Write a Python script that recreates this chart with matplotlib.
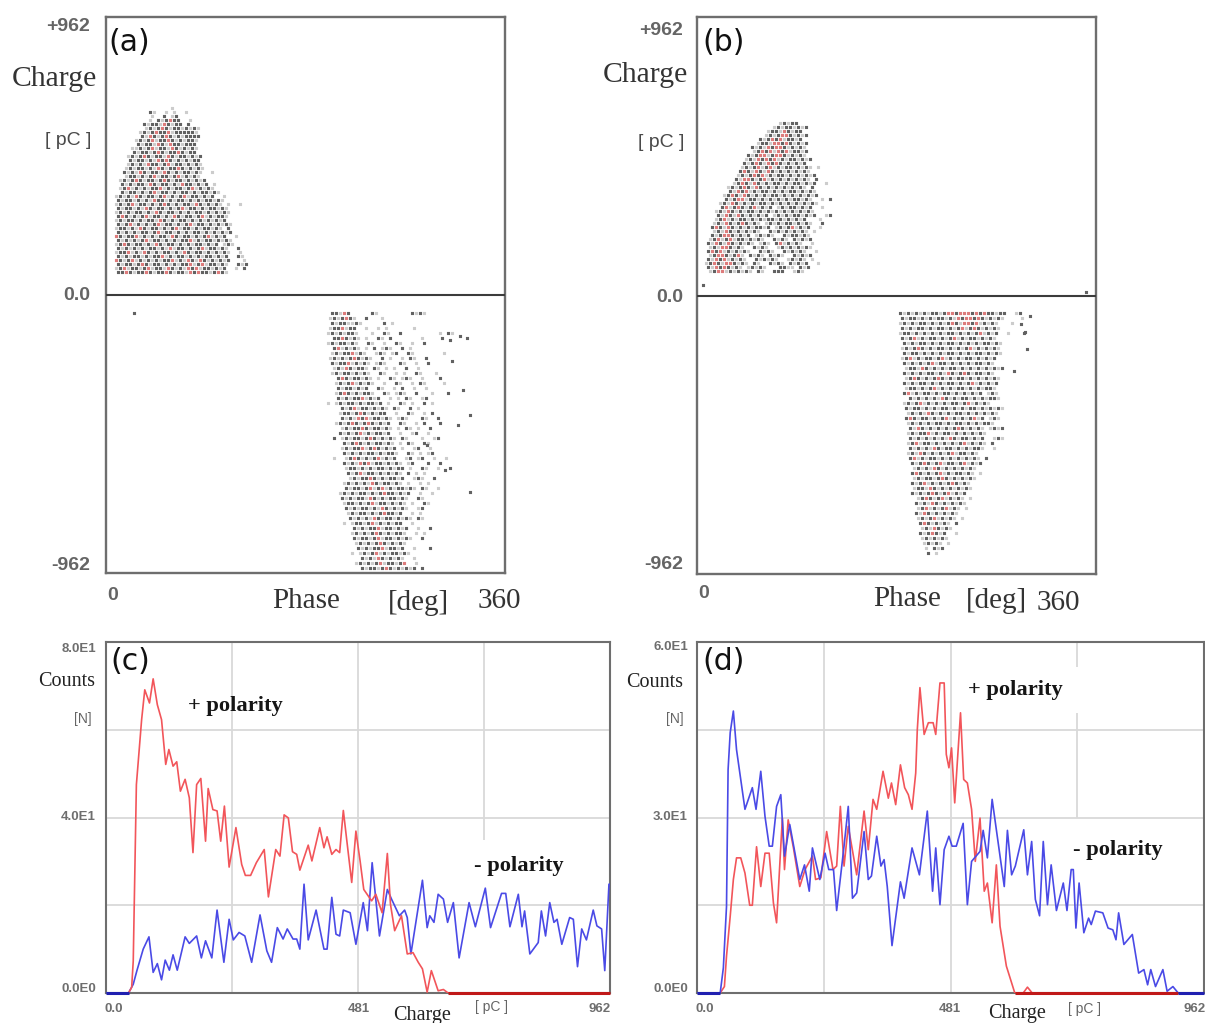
#!/usr/bin/env python3
"""Phase-resolved PD patterns (a, b) and charge histograms (c, d)."""

import matplotlib

matplotlib.use("Agg")
import matplotlib.pyplot as plt

W, H = 1205, 1023

# Scatter clouds read row by row: '#' dark dot, 'r' red dot, '.' pale dot.
A_POS_START = (5.4, 647.0)
A_POS_STEP = (3.6, -13.8)
A_POS_ROWS = [
    "               .                    ",
    "         #.  . .  .                 ",
    "          .  # .#                   ",
    "         . #.#r##  .                ",
    "        #.##.r#.## #                ",
    "        .#.#r#.##.#.#.              ",
    "       .#.#r##r.#####.              ",
    "       #.r#.#r#.#.####              ",
    "      .#.#r.##r#.#.##.              ",
    "      #.##.r#.r##.###               ",
    "     ..#.#r.##.r#.#.#.              ",
    "     #.##.#r#.##r#.##               ",
    "    .#.#r#.##.r#.##.#.#             ",
    "    #.##.#.r#r#.#.#.##              ",
    "    .#.#.r##.#r.##.#.#.             ",
    "   .#.##.#.r#.##r#.#.#.             ",
    "   #.#.r#.##.r#.#.##.#.  .          ",
    "   .##.#.#r.##.#r.#.#.              ",
    "  .#.#r#.##.#r#.##.#.#.#            ",
    "  #.#.##.r#.##.#.r##.#.# .          ",
    "  .#r.#.#.##r.#.##.#r.#.#.          ",
    "  #.##.#.#r.##.#.##.#.##.#.         ",
    " .#.#.r#.##.#r.#.#r.##.#.#  .       ",
    " #.##.#.#.r##.#.##.#.#.##.#.        ",
    " .#.#r.##.#.#r#.#.##.r#.#.#. .  .   ",
    " #.##.#.r#.##.#.#r.##.#.##.#.       ",
    " .#.#.##.#.r#.##.#.#.##.#.#.#.      ",
    " #r#.#.#r.##.#.r#.##.#r.#.##.       ",
    " .#.##.#.##.r#.#.##.#.#.#.#.#       ",
    " #.#r.#.#.#r.##.#.#r.##.#.#.#.      ",
    " .##.#.r#.##.#.#r.##.#.##.#. #      ",
    " #.#.#.##.#r.##.#.#.##.#.#.#.#      ",
    " r#.##r.#.#.##.r#.##.#.#r.#.#  .    ",
    " #.#.#.#r.##.#.#.##r.#.##.#.#.      ",
    " .#r#.##.#.r#.##.#.#.##.#.# .#.     ",
    " #.#.#.#.##.#.r.##.#.#r.##.#.  #    ",
    " .##r.#.r#.#.##.#.r#.##.#.#.#.  .   ",
    " #.#.##.#.##r.#.##.#.#.##.#.#  #.   ",
    " r#.#r.#.#.#.##r.#.r#.r#.#.#.#   .  ",
    " #.##.#r#.##.#.#.##r.#r.##.#.  #.#  ",
    " .#r.##.#r.##.r#.#.r#r.##.#.#  . #  ",
    " ##r#.##r#.##r#.##.r#r##.#r#.       ",
]

A_NEG_START = (196.7, -62.0)
A_NEG_STEP = (3.6, -17.3)
A_NEG_ROWS = [
    "  ##.r#     #.        #.#.           ",
    " .#.#r#.  #   .                      ",
    "  #.##..#.     # .                   ",
    " .##r.##  .  . .      .              ",
    " .#.#.##.   .  #.  #         . #.    ",
    "  ##r#.#. .  #. #       .    #       ",
    " .#.##.#.  #.  .  #.  .  #           ",
    "  #r.#.#. . # .#.  # .               ",
    "  .#.##r.#.  .#. .#  #.       .      ",
    " .#.#.#r#.#.  # .  . #.  #           ",
    "  #.##r.#.#. .#.   #.  .  #          ",
    "  .#.r#.##. #. . .  #  .             ",
    "  .#.##.#.#.  #.  . .  #.   .        ",
    "   #r#.##.#. .  #. .#.  .            ",
    "   .#.#r.#.#.  .  #.  . #.    .      ",
    "   #.##.#.#  #.  . #  .  .           ",
    "   .#r#.#.##.  #. .#.  #   .   #     ",
    "   #.#.##r.#.#  . . #.  .#           ",
    " . .#.##.#.##.# .  #. .  # .         ",
    "    #.#r.##.#.#. #.  # .             ",
    "    .##.#r#.#.##  .  #.  . #         ",
    "    #.#.r#r.##.#. .#.   #.  #        ",
    "   .#.#r#.#r#.#.#  #.  . #   #       ",
    "    .#.##r#.##.#. . #. .  #          ",
    "    #.#.#r.#.##.#  .  .#  .          ",
    "  # .#.##.#r#.#.#. #.   .  .#        ",
    "     #.#r#.#.##.#. . #.  #.          ",
    "    .#.##r.#r#.#.# .  .#  .          ",
    "     #.#.#.##.#.##.  #. . .#         ",
    "  .  .#r#.#.#r.#.#  .# .#  .  .      ",
    "     #.#.r#r.##.#.#. .#   #  #       ",
    "     .##.#.#.##.#.## .  #.  .  #     ",
    "      #.#r.##.#.#.#. # . .           ",
    "      .#.##r#.#.##.#  .#.  #         ",
    "     .#.#.#.r#.##.#. .  . .          ",
    "     #.##.#r.#r.#.##.#. #.  .        ",
    "    .#.#.##.#.#r##.#.#  .  .         ",
    "    #.#.##.r#.#.##.#.  #.            ",
    "     .##.#.#r.##.#.#. .  #.          ",
    "     #.#.##.#.r#.#.#.  .#            ",
    "      .#.##.#.#r##.#  . .            ",
    "      #.#.#.r#.##.#.#. #.            ",
    "     . .##.#r.#.#.##  .              ",
    "       #.#.##r.##.#.#  .  #          ",
    "       .#.#.#r#.#.##.  . .           ",
    "       #.##.#r.##.#.#.  #            ",
    "        .#.#.#r#.#.#.                ",
    "        #.#.##r.##.#  .   #          ",
    "       . .#.#r.#.##.#.               ",
    "         #.#.r#.#.#.  .              ",
    "        .#.#.#r.##.#r  .             ",
    "         #.##.#r#.#.#.# #            ",
]

# Loose dots of panel (a) that sit outside the main lobes.
A_STRAY_PHASE = [25, 326, 310, 319, 328, 328, 301, 306, 318, 290, 312, 322]
A_STRAY_CHARGE = [-62, -149, -156, -142, -415, -682, -287, -606, -450, -520, -230, -330]

B_POS_START = (6.3, 595.0)
B_POS_STEP = (3.6, -13.8)
B_POS_ROWS = [
    "                   .#.##            ",
    "                 .#.##.#.#          ",
    "                .##.r#.##           ",
    "               .#.#rr#.#.#          ",
    "              #.#r#r.##.#           ",
    "             .##.rr#r#.#.#          ",
    "            #.#.r#rr#.#.#.          ",
    "            .#r#r.r#r.##.#          ",
    "           #.#rr.#rr#.#.#.          ",
    "          .#.r#r#r.#.##.#.#         ",
    "          #.#r#.r#r#.#.#.#          ",
    "         .#.#r.#r.#.##.#.#. .       ",
    "         #r#.r#.r#.#.#.#.#.         ",
    "        .#.#r#r.#.##.#.#.#.#        ",
    "        #.rr#.#r.#.#.#.#.#. #       ",
    "       .#r#.r#.#.##.#.##.#.#  .     ",
    "      .#.#r#.r#.#.#.#.#.#. #        ",
    "      #.r#r.#.##.#.#.##.#.#.        ",
    "     .#r#.r#.#.#.##.#.#.#.#.#       ",
    "     #.#rr.##.#.#.#.#.##.#.  . #    ",
    "    .#.r#.#.#.##.#.#.#.#.#.#.       ",
    "    #r.#r#.#r.#.# .#.##.#.#  .      ",
    "   .#.r#.#.##.#.#.#.#.#.#.#.        ",
    "   #.r#.r#.#.#.# .#.#.##.#.#  .#    ",
    "   .#r.#.##.#.#.##.#.#.#.#   .      ",
    "  .#.r#.#r#.#. .#.#.##.#.#.  #      ",
    "  #r#.r#.#.#.##.# .#.#r.#.#  .      ",
    "  .#.r#.#.#.#.  #.#.#.#.#. .        ",
    "  #.#rr#.#.# .#.#.  #.##.#.         ",
    " .#r.#r.##.#.#.  #.#. #.#.#         ",
    " #.r#.r#.#.#. .#. #r.#.#.  .        ",
    " .#.rr#.#.  #.#.  .#.#.#.#.         ",
    " #r#r.#.#.#.  #.#.  #.#.#.  .       ",
    " .#rr#.#r. #.#. #.#.  #.#.#         ",
    " #.r#r.#.#.  #.#.#.  .#.#. .        ",
    ".#r#.rr#.#. #.  #.#. #.#.#  .       ",
    " #.r#r#.#. .#.#.   ##.. #.#         ",
    " .#rr.#.#.#. #.  ###  .#.           ",
]

B_NEG_START = (183.0, -59.0)
B_NEG_STEP = (3.6, -17.3)
B_NEG_ROWS = [
    "#.#.#.#.##.#rr#rrr#r#r##.##  .#     ",
    "#.##.#.#.##.#.r#rr#r#.#.#.    .     ",
    ".#.#.##.#.#.#r#.rr#r.#.#.   .       ",
    "#.#.##.#.##.#.#r.#r#.#.#.           ",
    ".##.#.#.#.#.##.#.#.#r.#.#  .   #    ",
    "#.#r.#.##.#.#r.#.##.#.#.            ",
    " #.#.##.#.#.##.#.#.#.##.#.          ",
    ".#.#r#.#.##.#.#.#r.#.#.#.           ",
    " #.##.#.#.#.##.#.#.##.#.#.          ",
    ".#r.#.##.#r.#.#.##.#.#.#            ",
    " #.#.#.#r.##.#.#.#.##.#.            ",
    " .##.r#.#.#.##.#.#.#.#.#.#          ",
    " #.#.#.##.#.r#.#r#.##.#.            ",
    " .#r#.#.#r#.#.##.#.#.#.#.           ",
    " #.#.##.#.#.##.#.#r.#.#.#           ",
    " .##.#.#r.#.#.##.#.#.##.            ",
    " #r.#.##.#.##.#.#.#.# .#.           ",
    "  #.#.#.#.r#.#.##.#.#.##.           ",
    " .#.#r.#.#.#.##.#r.#.#.             ",
    " #.##.#.#.##.#.#.##.#.#.#.          ",
    "  .#.#.r#.#.#.##.#.#.#.#.           ",
    " #r#.##.#.#r.#.#.#r.# .#.           ",
    "  .#.#.#.##.#.##.#.#.##.            ",
    "  #.r#.#.#.#.#r#.#.#. .#.#          ",
    "  .#.##r.#.##.#.#.#.#.              ",
    "  #.#.#.#.#.r#.##.#.#  .#.          ",
    "  .#r.##.#.#.#.#r.#.#. #            ",
    "  #.#.#.r#.##.#.#.##.  .            ",
    "  .#.r#.#.#.#r.##.#.                ",
    "  #r.#.##.#.#.#.#.#. #              ",
    "   #.#r#.#r.##.#r.#.#               ",
    "   .#.#.r#.#.#.#.#.                 ",
    "   #r#.#.#r.#.##.#. .               ",
    "   .#.##.#r#.#.#.#.                 ",
    "   #.#r.#.#.#r#.#.                  ",
    "   .##.r#.#.#.#.#.                  ",
    "   #.#.#r#.#r.#.#                   ",
    "    .#r#.#r.#.#. .                  ",
    "    #.#.r#.#.#.#.                   ",
    "    .#r.#.#r.#. .                   ",
    "    #.r#.#.#.#.                     ",
    "    .#.#r.#.#. .                    ",
    "     #r#.#.#. #                     ",
    "     .#.r#.#.                       ",
    "     #.#r#.#  .                     ",
    "     .#.#.#.                        ",
    "      .#.#. .                       ",
    "      . #.#                         ",
    "       # .                          ",
]

# Loose dots of panel (b).
B_STRAY_PHASE = [5, 351, 298, 292, 286, 300, 296]
B_STRAY_CHARGE = [35, 12, -185, -100, -260, -70, -125]

# Histogram of panel (c), charge in pC against counts.
C_RED_Q = [43, 49, 52, 58, 68, 74, 83, 90, 98, 106, 114, 120, 128, 135, 142, 151,
           159, 166, 173, 181, 190, 195, 204, 212, 219, 226, 235, 248, 259, 266,
           276, 287, 302, 310, 324, 332, 340, 348, 356, 364, 370, 386, 393, 408,
           416, 422, 431, 439, 446, 453, 459, 469, 477, 485, 492, 507, 515, 527,
           537, 543, 551, 564, 575, 586, 596, 604, 613, 621, 634, 644, 653, 962]
C_RED_N = [0, 1.3, 7.3, 47.5, 62.3, 69.1, 66.1, 71.6, 65.7, 62.3, 52.1, 55.5, 51.7,
           52.7, 46.0, 48.7, 44.5, 32.0, 47.5, 48.9, 34.6, 46.6, 41.8, 41.5, 34.6,
           42.6, 28.7, 37.7, 29.3, 26.8, 26.8, 29.7, 32.7, 21.9, 32.7, 31.2, 40.6,
           39.9, 32.2, 31.6, 28.0, 33.7, 30.1, 37.7, 33.1, 35.6, 31.6, 32.7, 32.0,
           41.6, 35.4, 25.2, 36.9, 30.1, 23.6, 21.0, 22.5, 18.3, 31.8, 20.2, 14.2,
           17.6, 8.9, 9.2, 7.0, 5.5, 0.2, 5.1, 0.5, 0.8, 0, 0]
C_BLUE_Q = [0, 43, 52, 59, 71, 82, 90, 98, 106, 113, 121, 128, 136, 151, 159, 173,
            182, 190, 202, 212, 225, 235, 243, 254, 265, 278, 294, 307, 316, 327,
            338, 346, 357, 364, 370, 378, 386, 401, 416, 422, 431, 439, 446, 453,
            466, 477, 491, 499, 508, 522, 537, 545, 560, 570, 575, 582, 604, 613,
            618, 626, 634, 644, 652, 663, 674, 693, 705, 724, 734, 755, 763, 771,
            787, 794, 799, 809, 825, 831, 839, 847, 855, 861, 870, 885, 892, 900,
            908, 917, 930, 937, 946, 952, 960, 962]
C_BLUE_N = [0, 0, 2.0, 5.1, 10.0, 12.8, 4.7, 6.7, 3.0, 7.5, 5.2, 8.7, 5.2, 12.8,
            11.3, 13.0, 8.0, 11.9, 8.0, 18.9, 7.0, 16.8, 12.1, 13.8, 13.0, 7.0,
            17.8, 9.6, 7.0, 14.9, 12.3, 14.6, 12.3, 12.3, 10.0, 24.8, 12.1, 18.9,
            10.0, 10.0, 21.8, 13.4, 13.0, 18.9, 18.3, 11.1, 20.6, 14.2, 29.7, 13.0,
            23.6, 21.4, 17.6, 18.9, 17.2, 8.9, 25.7, 14.9, 17.6, 16.1, 22.5, 21.4,
            16.1, 20.6, 8.0, 20.6, 15.1, 23.9, 14.9, 22.7, 22.7, 15.1, 22.5, 15.1,
            18.7, 8.9, 11.5, 18.7, 13.0, 20.6, 16.1, 16.8, 11.1, 17.2, 16.8, 6.0,
            14.6, 12.1, 18.9, 15.3, 14.6, 5.1, 24.8, 24.8]

# Histogram of panel (d).
D_RED_Q = [44, 52, 56, 63, 69, 75, 83, 91, 100, 105, 113, 121, 129, 137, 145, 151,
           159, 162, 166, 173, 183, 195, 205, 219, 225, 235, 246, 258, 265, 272,
           279, 287, 303, 317, 325, 334, 341, 353, 363, 369, 377, 386, 394, 401,
           408, 415, 418, 423, 431, 439, 448, 453, 461, 469, 473, 478, 483, 489,
           500, 506, 513, 521, 528, 537, 545, 551, 560, 568, 575, 587, 603, 619,
           627, 636, 913]
D_RED_N = [0, 1.1, 6.3, 13.1, 19.4, 23.1, 23.1, 20.5, 15.0, 15.0, 25.0, 18.2, 23.9,
           23.9, 15.4, 12.0, 25.1, 29.9, 21.1, 29.6, 24.8, 18.2, 21.1, 23.4, 19.4,
           19.7, 27.6, 21.1, 21.7, 31.9, 21.7, 28.5, 20.2, 31.1, 24.5, 33.1, 31.4,
           37.9, 33.3, 35.9, 32.2, 39.0, 35.1, 33.9, 31.4, 37.6, 45.0, 52.2, 44.2,
           46.2, 46.2, 44.2, 53.0, 53.0, 40.8, 38.5, 41.9, 32.5, 47.9, 36.5, 35.9,
           31.4, 22.5, 29.9, 17.4, 18.8, 12.0, 21.9, 11.4, 4.6, 0, 0, 1.0, 0, 0]
D_BLUE_Q = [0, 44, 50, 56, 59, 63, 69, 75, 91, 105, 112, 121, 129, 137, 143, 151,
            159, 166, 176, 195, 204, 213, 219, 233, 243, 250, 259, 265, 279, 287,
            295, 303, 317, 325, 331, 341, 349, 355, 361, 370, 386, 393, 408, 422,
            437, 447, 453, 461, 469, 478, 484, 492, 505, 513, 521, 537, 543, 551,
            560, 583, 589, 597, 604, 620, 627, 635, 642, 650, 657, 665, 672, 682,
            695, 702, 710, 714, 719, 725, 734, 743, 748, 756, 770, 780, 789, 795,
            800, 810, 826, 838, 848, 855, 861, 870, 884, 892, 903, 913, 962]
D_BLUE_N = [0, 0, 4.3, 14.8, 38.2, 44.5, 48.2, 41.6, 31.4, 35.1, 31.4, 37.9, 30.2,
            25.1, 25.1, 31.9, 33.9, 23.4, 28.8, 19.4, 21.9, 17.4, 24.8, 19.4, 23.9,
            21.1, 21.1, 14.1, 25.1, 31.9, 16.2, 17.1, 27.6, 19.4, 20.0, 26.8, 21.7,
            22.8, 18.2, 8.1, 19.0, 16.2, 24.8, 20.2, 31.1, 17.4, 24.8, 15.1, 24.5,
            26.8, 25.1, 25.1, 29.0, 15.1, 22.5, 24.2, 27.8, 23.1, 33.1, 18.2, 27.8,
            20.2, 21.7, 27.9, 20.2, 25.9, 16.0, 13.2, 25.9, 15.1, 21.9, 14.1, 18.8,
            14.1, 21.1, 21.1, 11.1, 18.8, 10.3, 12.8, 11.7, 14.0, 13.7, 11.1, 10.8,
            9.1, 13.7, 8.3, 10.0, 3.4, 4.0, 1.4, 4.0, 1.1, 4.0, 0.3, 1.1, 0, 0]

CHARGE_GRID = [240.5, 481, 721.5]
DOT_COLORS = {".": "#cccccc", "#": "#626262", "r": "#dd7c7c"}
DOT_SIZE = 5.0
FRAME = "#6e6e6e"
TEXT = "#4a4a4a"
SERIF = "Liberation Serif"
SANS = "Liberation Sans"


def pixel_axes(fig, left, top, right, bottom):
    return fig.add_axes([left / W, 1 - bottom / H, (right - left) / W, (bottom - top) / H])


def label(fig, x, y, s, size, family=SANS, color=TEXT, **kw):
    kw.setdefault("ha", "left")
    return fig.text(x / W, 1 - (y + 1.5) / H, s, fontsize=size, family=family, color=color, va="center", **kw)


def draw_cloud(ax, start, step, rows):
    for key, color in DOT_COLORS.items():
        xs, ys = [], []
        for i, row in enumerate(rows):
            for j, ch in enumerate(row):
                if ch == key:
                    # every other row sits half a column over, as the binned dots do
                    xs.append(start[0] + (j + 0.5 * (i % 2)) * step[0])
                    ys.append(start[1] + i * step[1])
        dots = ax.scatter(xs, ys, s=DOT_SIZE, marker="s", color=color, linewidths=0, zorder=2)
        dots.set_snap(False)


def style_frame(ax, width):
    ax.set_xticks([])
    ax.set_yticks([])
    for spine in ax.spines.values():
        spine.set_color(FRAME)
        spine.set_linewidth(width)


def phase_panel(fig, box, clouds, stray, tag, tx):
    ax = pixel_axes(fig, *box)
    ax.set_xlim(0, 360)
    ax.set_ylim(-962, 962)
    style_frame(ax, 1.7)
    ax.axhline(0, color="#3c3c3c", linewidth=1.5, zorder=4)
    for start, step, rows in clouds:
        draw_cloud(ax, start, step, rows)
    loose = ax.scatter(stray[0], stray[1], s=DOT_SIZE, marker="s", color=DOT_COLORS["#"], linewidths=0, zorder=2)
    loose.set_snap(False)
    label(fig, tx + 1, 41, tag, 21.5, family="DejaVu Sans", color="#111111")
    return ax


def count_panel(fig, box, ymax, grid_x_segments):
    ax = pixel_axes(fig, *box)
    ax.set_xlim(0, 962)
    ax.set_ylim(0, ymax)
    style_frame(ax, 1.5)
    for y in (ymax * 0.25, ymax * 0.5, ymax * 0.75):
        ax.axhline(y, color="#d9d9d9", linewidth=1.3, zorder=1)
    for q, segments in zip(CHARGE_GRID, grid_x_segments):
        for lo, hi in segments:
            ax.vlines(q, lo, hi, color="#d9d9d9", linewidth=1.3, zorder=1)
    return ax


def main():
    fig = plt.figure(figsize=(W / 100, H / 100), dpi=100)

    phase_panel(fig, (106, 17, 505, 573),
                [(A_POS_START, A_POS_STEP, A_POS_ROWS), (A_NEG_START, A_NEG_STEP, A_NEG_ROWS)],
                (A_STRAY_PHASE, A_STRAY_CHARGE), "(a)", 107)
    phase_panel(fig, (697, 17, 1096, 574),
                [(B_POS_START, B_POS_STEP, B_POS_ROWS), (B_NEG_START, B_NEG_STEP, B_NEG_ROWS)],
                (B_STRAY_PHASE, B_STRAY_CHARGE), "(b)", 701)

    for x_right, y_top, y_q, y_unit, y_zero, y_neg in [(90, 25, 77, 139, 294, 564), (683, 29, 73, 141, 296, 563)]:
        label(fig, x_right, y_top, "+962", 14, ha="right", fontweight="bold", alpha=0.85)
        label(fig, x_right + 7 if x_right == 90 else x_right + 5, y_q, "Charge", 21.3, family=SERIF, color="#333333", ha="right")
        label(fig, x_right + 1, y_unit, "[ pC ]", 14, ha="right")
        label(fig, x_right, y_zero, "0.0", 14, ha="right", fontweight="bold", alpha=0.85)
        label(fig, x_right, y_neg, "-962", 14, ha="right", fontweight="bold", alpha=0.85)

    label(fig, 107, 594, "0", 14, fontweight="bold", alpha=0.85)
    label(fig, 272, 600, "Phase", 21, family=SERIF, color="#333333")
    label(fig, 388, 601, "[deg]", 21, family=SERIF, color="#333333")
    label(fig, 478, 600, "360", 21, family=SERIF, color="#333333")
    label(fig, 698, 592, "0", 14, fontweight="bold", alpha=0.85)
    label(fig, 873, 598, "Phase", 21, family=SERIF, color="#333333")
    label(fig, 966, 599, "[deg]", 21, family=SERIF, color="#333333")
    label(fig, 1037, 602, "360", 21, family=SERIF, color="#333333")

    ax_c = count_panel(fig, (106, 642, 610, 993), 80, [[(0, 80)], [(0, 80)], [(34.8, 80)]])
    ax_c.plot(C_BLUE_Q, C_BLUE_N, color="#4a4ae6", linewidth=1.2, zorder=3, solid_joinstyle="round")
    ax_c.plot(C_RED_Q, C_RED_N, color="#f2555a", linewidth=1.2, zorder=4, solid_joinstyle="round")
    ax_c.hlines(0, 653, 962, color="#c01818", linewidth=2.2, zorder=5, clip_on=False)
    ax_c.hlines(0, 0, 43, color="#2020b0", linewidth=2.2, zorder=5, clip_on=False)

    ax_d = count_panel(fig, (697, 642, 1204, 993), 60, [[(0, 60)], [(0, 60)], [(55.7, 60), (29.9, 47.9)]])
    ax_d.plot(D_RED_Q, D_RED_N, color="#f2555a", linewidth=1.2, zorder=3, solid_joinstyle="round")
    ax_d.plot(D_BLUE_Q, D_BLUE_N, color="#4a4ae6", linewidth=1.2, zorder=4, solid_joinstyle="round")
    ax_d.hlines(0, 603, 913, color="#c01818", linewidth=2.2, zorder=5, clip_on=False)
    ax_d.hlines(0, 0, 44, color="#2020b0", linewidth=2.2, zorder=5, clip_on=False)
    ax_d.hlines(0, 913, 962, color="#2020b0", linewidth=2.2, zorder=5, clip_on=False)

    label(fig, 110, 660, "(c)", 21.5, family="DejaVu Sans", color="#111111")
    label(fig, 702, 660, "(d)", 21.5, family="DejaVu Sans", color="#111111")

    label(fig, 96, 647, "8.0E1", 9.5, ha="right", fontweight="bold", alpha=0.8)
    label(fig, 96, 816, "4.0E1", 9.5, ha="right", fontweight="bold", alpha=0.8)
    label(fig, 96, 987, "0.0E0", 9.5, ha="right", fontweight="bold", alpha=0.8)
    label(fig, 688, 645, "6.0E1", 9.5, ha="right", fontweight="bold", alpha=0.8)
    label(fig, 688, 816, "3.0E1", 9.5, ha="right", fontweight="bold", alpha=0.8)
    label(fig, 688, 988, "0.0E0", 9.5, ha="right", fontweight="bold", alpha=0.8)
    label(fig, 38, 680, "Counts", 14.5, family=SERIF, color="#222222")
    label(fig, 626, 681, "Counts", 14.5, family=SERIF, color="#222222")
    label(fig, 92, 717, "[N]", 10, ha="right", alpha=0.85)
    label(fig, 684, 717, "[N]", 10, ha="right", alpha=0.85)

    for x_0, x_mid, x_end, y_ticks, x_charge, y_charge, x_unit, y_unit in [
            (106, 359, 600, 1007, 393, 1014, 475, 1006), (697, 950, 1195, 1007, 988, 1012, 1068, 1008)]:
        label(fig, x_0 + 8, y_ticks, "0.0", 9.5, ha="center", fontweight="bold", alpha=0.8)
        label(fig, x_mid, y_ticks, "481", 9.5, ha="center", fontweight="bold", alpha=0.8)
        label(fig, x_end, y_ticks, "962", 9.5, ha="center", fontweight="bold", alpha=0.8)
        label(fig, x_charge, y_charge, "Charge", 14.5, family=SERIF, color="#222222")
        label(fig, x_unit, y_unit, "[ pC ]", 10, alpha=0.85)

    polarity = dict(family=SERIF, color="#151515", fontweight="bold")
    label(fig, 188, 705, "+ polarity", 16.2, **polarity)
    label(fig, 474, 864, "- polarity", 16.2, **polarity)
    label(fig, 968, 689, "+ polarity", 16.2, **polarity)
    label(fig, 1073, 848, "- polarity", 16.2, **polarity)

    fig.savefig("out.png", dpi=100)
    plt.close(fig)


if __name__ == "__main__":
    main()
